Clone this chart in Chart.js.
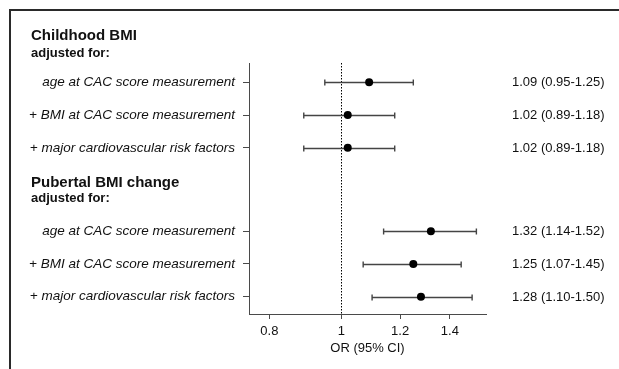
<!DOCTYPE html>
<html>
<head>
<meta charset="utf-8">
<script src="https://cdn.jsdelivr.net/npm/chart.js@4"></script>
<style>
  html, body { margin: 0; padding: 0; background: #fff; }
  #wrap { width: 619px; height: 369px; }
</style>
</head>
<body>
<div id="wrap"><canvas id="c" width="619" height="369"></canvas></div>
<script>
// ---- data ----
const groups = ["Childhood BMI", "Pubertal BMI change"];
const subtitle = "adjusted for:";
const adjustments = [
  "age at CAC score measurement",
  "+ BMI at CAC score measurement",
  "+ major cardiovascular risk factors"
];
const childhoodOR   = [1.09, 1.02, 1.02];
const childhoodLow  = [0.95, 0.89, 0.89];
const childhoodHigh = [1.25, 1.18, 1.18];
const pubertalOR    = [1.32, 1.25, 1.28];
const pubertalLow   = [1.14, 1.07, 1.10];
const pubertalHigh  = [1.52, 1.45, 1.50];
const xTicks = [0.8, 1, 1.2, 1.4];
const xTitle = "OR (95% CI)";

// ---- build rows (layout positions computed, not data) ----
const groupOffset = [1, 5.55];
const rows = [];
[[childhoodOR, childhoodLow, childhoodHigh], [pubertalOR, pubertalLow, pubertalHigh]].forEach((g, gi) => {
  g[0].forEach((v, i) => {
    rows.push({ y: groupOffset[gi] + i, or: v, lo: g[1][i], hi: g[2][i], label: adjustments[i] });
  });
});
const headerPos = [
  { title: -0.285, sub: 0.218 },
  { title: 4.19, sub: 4.665 }
];

const FONT = "'Liberation Sans', Arial, Helvetica, sans-serif";

const forestPlugin = {
  id: 'forest',
  beforeDraw(chart) {
    const ctx = chart.ctx;
    ctx.save();
    ctx.fillStyle = '#fff';
    ctx.fillRect(0, 0, chart.width, chart.height);
    ctx.strokeStyle = '#2a2a2a';
    ctx.lineWidth = 2;
    ctx.beginPath();
    ctx.moveTo(10, chart.height);
    ctx.lineTo(10, 10);
    ctx.lineTo(chart.width, 10);
    ctx.stroke();
    ctx.restore();
  },
  beforeDatasetsDraw(chart) {
    const ctx = chart.ctx;
    const xs = chart.scales.x, ys = chart.scales.y;
    const area = chart.chartArea;
    ctx.save();
    // reference line at OR = 1
    const x1 = Math.round(xs.getPixelForValue(1)) + 0.5;
    ctx.strokeStyle = '#000';
    ctx.lineWidth = 1;
    ctx.setLineDash([1.5, 1.5]);
    ctx.beginPath();
    ctx.moveTo(x1, area.top);
    ctx.lineTo(x1, area.bottom);
    ctx.stroke();
    ctx.setLineDash([]);
    // CI whiskers
    ctx.strokeStyle = '#444';
    ctx.lineWidth = 1.4;
    rows.forEach(r => {
      const y = Math.round(ys.getPixelForValue(r.y)) + 0.5;
      const a = xs.getPixelForValue(r.lo), b = xs.getPixelForValue(r.hi);
      ctx.beginPath();
      ctx.moveTo(a, y); ctx.lineTo(b, y);
      ctx.moveTo(a, y - 3); ctx.lineTo(a, y + 3);
      ctx.moveTo(b, y - 3); ctx.lineTo(b, y + 3);
      ctx.stroke();
    });
    ctx.restore();
  },
  afterDraw(chart) {
    const ctx = chart.ctx;
    const ys = chart.scales.y;
    ctx.save();
    ctx.fillStyle = '#111';
    ctx.textBaseline = 'alphabetic';
    ctx.textAlign = 'left';
    groups.forEach((g, gi) => {
      ctx.font = "bold 15px " + FONT;
      ctx.fillText(g, 31, ys.getPixelForValue(headerPos[gi].title));
      ctx.font = "bold 13px " + FONT;
      ctx.fillText(subtitle, 31, ys.getPixelForValue(headerPos[gi].sub));
    });
    ctx.font = "13px " + FONT;
    ctx.textBaseline = 'middle';
    rows.forEach(r => {
      const txt = r.or.toFixed(2) + " (" + r.lo.toFixed(2) + "-" + r.hi.toFixed(2) + ")";
      ctx.fillText(txt, 512, ys.getPixelForValue(r.y) + 0.5);
    });
    ctx.restore();
  }
};

new Chart(document.getElementById('c'), {
  type: 'scatter',
  data: {
    datasets: [{
      data: rows.map(r => ({ x: r.or, y: r.y })),
      backgroundColor: '#000',
      borderColor: '#000',
      pointRadius: 4,
      pointHoverRadius: 4,
      borderWidth: 0
    }]
  },
  options: {
    responsive: false,
    animation: false,
    events: [],
    layout: { padding: { left: 0, right: 133, top: 63, bottom: 0 } },
    plugins: { legend: { display: false }, tooltip: { enabled: false } },
    scales: {
      x: {
        type: 'logarithmic',
        min: 0.751,
        max: 1.566,
        afterBuildTicks: s => { s.ticks = xTicks.map(v => ({ value: v })); },
        afterFit: s => { s.height = 55; },
        ticks: {
          callback: v => String(v),
          color: '#111',
          padding: 5,
          autoSkip: false,
          maxRotation: 0,
          font: { family: FONT, size: 13 }
        },
        grid: { drawOnChartArea: false, drawTicks: true, tickLength: 5, color: '#4a4a4a', lineWidth: 1 },
        border: { display: true, color: '#4a4a4a', width: 1 },
        title: {
          display: true,
          text: xTitle,
          color: '#111',
          font: { family: FONT, size: 13 },
          padding: { top: 0, bottom: 13 }
        }
      },
      y: {
        type: 'linear',
        reverse: true,
        min: 0.41,
        max: 8.08,
        afterBuildTicks: s => { s.ticks = rows.map(r => ({ value: r.y })); },
        afterFit: s => { s.width = 249; },
        ticks: {
          callback: (v, i) => rows[i] ? rows[i].label : '',
          color: '#111',
          padding: 8,
          autoSkip: false,
          font: { family: FONT, size: 13.5, style: 'italic' }
        },
        grid: { drawOnChartArea: false, drawTicks: true, tickLength: 6, color: '#4a4a4a', lineWidth: 1 },
        border: { display: true, color: '#4a4a4a', width: 1 }
      }
    }
  },
  plugins: [forestPlugin]
});
</script>
</body>
</html>
